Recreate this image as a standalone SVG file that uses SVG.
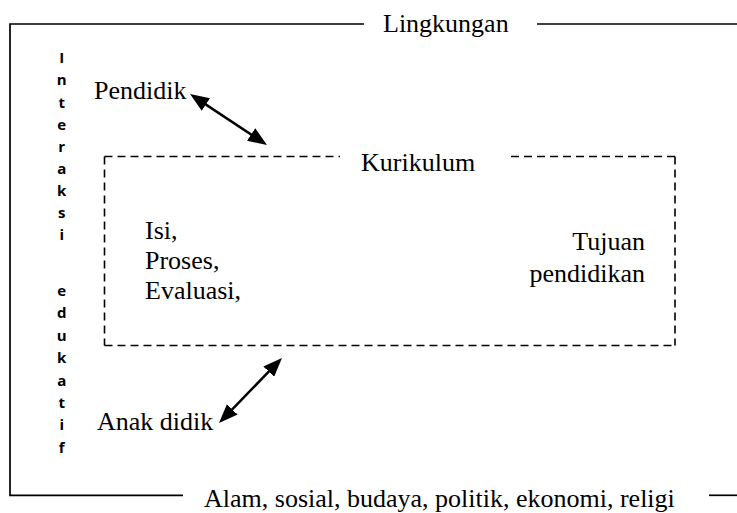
<svg xmlns="http://www.w3.org/2000/svg" width="737" height="513" viewBox="0 0 737 513">
  <style>
    .frame { stroke: #000; stroke-width: 1.7; fill: none; }
    .dash { stroke: #000; stroke-width: 1.6; fill: none; stroke-dasharray: 8 5; }
    .link { stroke: #000; stroke-width: 2.5; fill: none; marker-start: url(#head); marker-end: url(#head); }
    text.lbl { font-family: 'Liberation Serif', 'DejaVu Serif', serif; font-size: 26px; fill: #000; }
    text.vert { font-family: 'Open Sans', 'Liberation Sans', sans-serif; font-weight: 700; font-size: 15px; fill: #000; text-anchor: middle; }
  </style>
  <defs>
    <marker id="head" viewBox="0 0 19 15" refX="8" refY="7.5" markerWidth="19" markerHeight="15" markerUnits="userSpaceOnUse" orient="auto-start-reverse">
      <path d="M0,0 L19,7.5 L0,15 z" fill="#000"/>
    </marker>
  </defs>
  <rect width="737" height="513" fill="#fff"/>

  <!-- environment frame -->
  <g id="lingkungan" font-family="Liberation Serif, serif">
    <path class="frame" d="M364,24 H10 V495.3 H183"/>
    <line class="frame" x1="537" y1="24" x2="737" y2="24"/>
    <line class="frame" x1="709" y1="495.3" x2="737" y2="495.3"/>
    <text class="lbl" x="383" y="32">Lingkungan</text>
    <text class="lbl" x="204" y="507">Alam, sosial, budaya, politik, ekonomi, religi</text>
  </g>

  <!-- vertical label -->
  <g id="interaksi-edukatif" font-family="Open Sans, sans-serif">
    <text class="vert" x="61.7" y="63.3">I</text>
    <text class="vert" x="61.7" y="85.4">n</text>
    <text class="vert" x="61.7" y="107.5">t</text>
    <text class="vert" x="61.7" y="129.6">e</text>
    <text class="vert" x="61.7" y="151.7">r</text>
    <text class="vert" x="61.7" y="173.8">a</text>
    <text class="vert" x="61.7" y="195.9">k</text>
    <text class="vert" x="61.7" y="218">s</text>
    <text class="vert" x="61.7" y="240.1">i</text>
    <text class="vert" x="61.7" y="296">e</text>
    <text class="vert" x="61.7" y="318.4">d</text>
    <text class="vert" x="61.7" y="340.8">u</text>
    <text class="vert" x="61.7" y="363.2">k</text>
    <text class="vert" x="61.7" y="385.6">a</text>
    <text class="vert" x="61.7" y="408">t</text>
    <text class="vert" x="61.7" y="430.4">i</text>
    <text class="vert" x="61.7" y="452.8">f</text>
  </g>

  <g id="pendidik" font-family="Liberation Serif, serif">
    <text class="lbl" x="94" y="99">Pendidik</text>
  </g>

  <g id="anak-didik" font-family="Liberation Serif, serif">
    <text class="lbl" x="97" y="430">Anak didik</text>
  </g>

  <!-- curriculum box -->
  <g id="kurikulum" font-family="Liberation Serif, serif">
    <line class="dash" x1="104.5" y1="156.5" x2="340" y2="156.5"/>
    <line class="dash" x1="104.5" y1="156.5" x2="104.5" y2="345.5"/>
    <line class="dash" x1="104.5" y1="345.5" x2="675" y2="345.5"/>
    <line class="dash" x1="675" y1="156.5" x2="506" y2="156.5"/>
    <line class="dash" x1="675" y1="156.5" x2="675" y2="345.5"/>
    <text class="lbl" x="361" y="171">Kurikulum</text>
    <text class="lbl" x="145" y="239">Isi,</text>
    <text class="lbl" x="145" y="269">Proses,</text>
    <text class="lbl" x="145" y="299">Evaluasi,</text>
    <text class="lbl" x="645" y="250" text-anchor="end">Tujuan</text>
    <text class="lbl" x="645" y="282" text-anchor="end">pendidikan</text>
  </g>

  <!-- two-way links -->
  <g id="connectors">
    <line class="link" x1="199.2" y1="100.1" x2="257.8" y2="138.9"/>
    <line class="link" x1="226.7" y1="415.1" x2="274.3" y2="365.9"/>
  </g>
</svg>
